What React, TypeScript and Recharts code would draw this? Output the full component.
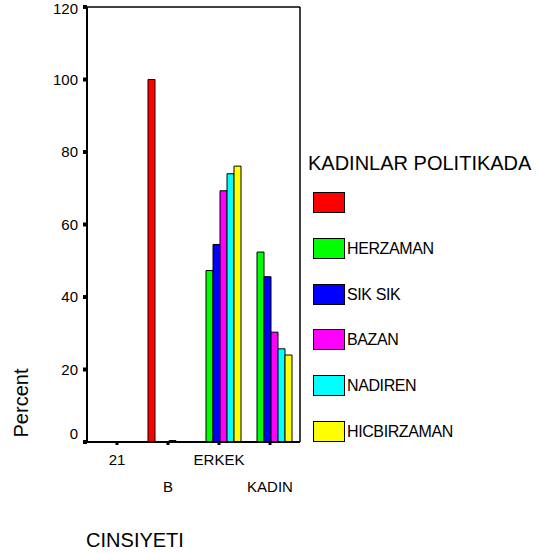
import React from 'react';
import { BarChart, Bar, XAxis, YAxis, Legend } from 'recharts';

const categories = ['21', 'B', 'ERKEK', 'KADIN'];
const seriesNames = ['', 'HERZAMAN', 'SIK SIK', 'BAZAN', 'NADIREN', 'HICBIRZAMAN'];
const seriesKeys = ['blank', 'herzaman', 'siksik', 'bazan', 'nadiren', 'hicbirzaman'];
const seriesColors = ['#FF0000', '#00FF00', '#0000FF', '#FF00FF', '#00FFFF', '#FFFF00'];
const blankValues = [0, 100, 0, 0];
const herzamanValues = [0, 0, 47.3, 52.4];
const siksikValues = [0, 0, 54.5, 45.6];
const bazanValues = [0, 0.4, 69.3, 30.3];
const nadirenValues = [0, 0, 74.0, 25.7];
const hicbirzamanValues = [0, 0, 76.1, 24.0];
const yTicks = [0, 20, 40, 60, 80, 100, 120];
const legendTitle = 'KADINLAR POLITIKADA';
const xTitle = 'CINSIYETI';
const yTitle = 'Percent';

const seriesValues = [blankValues, herzamanValues, siksikValues, bazanValues, nadirenValues, hicbirzamanValues];
const data = categories.map((c, i) => {
  const row: any = { category: c };
  seriesKeys.forEach((k, s) => { row[k] = seriesValues[s][i]; });
  return row;
});

const FONT = '"Liberation Sans", Arial, sans-serif';

const XTick = (props: any) => {
  const { x, y, payload, index } = props;
  const dy = index % 2 === 0 ? 20 : 47;
  return (
    <g>
      <rect x={x - 1.5} y={y - 3} width={3} height={3} fill="#000" />
      <text x={x} y={y} dy={dy} textAnchor="middle" fontFamily={FONT} fontSize={15} fill="#000">
        {payload.value}
      </text>
    </g>
  );
};

const YTick = (props: any) => {
  const { x, y, payload } = props;
  const shift = payload.value === 0 ? -8 : payload.value === 120 ? 2 : 0;
  return (
    <g>
      <rect x={x + 5} y={y - 2} width={4} height={4} fill="#000" />
      <text x={x} y={y + shift} dy={5} textAnchor="end" fontFamily={FONT} fontSize={15} fill="#000">
        {payload.value}
      </text>
    </g>
  );
};

const LegendContent = () => (
  <div style={{ position: 'absolute', left: 0, top: 0, width: 539, height: 553, pointerEvents: 'none' }}>
    <div style={{ position: 'absolute', left: 308, top: 153, fontFamily: FONT, fontSize: 20, lineHeight: '20px', whiteSpace: 'nowrap', color: '#000' }}>
      {legendTitle}
    </div>
    {seriesNames.map((n, i) => {
      const top = 192 + i * 45.8;
      return (
        <div key={i}>
          <div style={{ position: 'absolute', left: 313, top, width: 30, height: 19, background: seriesColors[i], border: '1px solid #000' }} />
          <div style={{ position: 'absolute', left: 347, top: top + 3, fontFamily: FONT, fontSize: 16, lineHeight: '16px', letterSpacing: -0.4, whiteSpace: 'nowrap', color: '#000' }}>
            {n}
          </div>
        </div>
      );
    })}
  </div>
);

export default function App() {
  return (
    <div style={{ position: 'absolute', left: 0, top: 0, width: 539, height: 553, background: '#fff' }}>
      <BarChart
        width={539}
        height={553}
        data={data}
        margin={{ top: 6, right: 238, bottom: 51, left: 27 }}
        barCategoryGap={5.5}
        barGap={0}
      >
        <XAxis
          dataKey="category"
          xAxisId={0}
          height={60}
          padding={{ left: 4.5, right: 4.5 }}
          stroke="#000"
          axisLine={{ stroke: '#000', strokeWidth: 2 }}
          tickLine={false}
          tickSize={3}
          tickMargin={0}
          tick={<XTick />}
          interval={0}
          label={{
            content: () => (
              <text x={135} y={547} textAnchor="middle" fontFamily={FONT} fontSize={20} fill="#000">{xTitle}</text>
            ),
          }}
        />
        <XAxis dataKey="category" xAxisId="top" orientation="top" height={1} tick={false} tickLine={false} stroke="#000" axisLine={{ stroke: '#000', strokeWidth: 1.5 }} />
        <YAxis
          yAxisId={0}
          width={60}
          domain={[0, 120]}
          ticks={yTicks}
          interval={0}
          stroke="#000"
          axisLine={{ stroke: '#000', strokeWidth: 2 }}
          tickLine={false}
          tickSize={4}
          tickMargin={5}
          tick={<YTick />}
          label={{
            content: () => (
              <text x={28} y={403} transform="rotate(-90 28 403)" textAnchor="middle" fontFamily={FONT} fontSize={20} fill="#000">{yTitle}</text>
            ),
          }}
        />
        <YAxis yAxisId="right" orientation="right" width={1} domain={[0, 120]} tick={false} tickLine={false} stroke="#000" axisLine={{ stroke: '#000', strokeWidth: 1.5 }} />
        <Legend content={<LegendContent />} wrapperStyle={{ position: 'absolute', left: 0, top: 0, width: 0, height: 0, overflow: 'visible' }} />
        {seriesKeys.map((k, i) => (
          <Bar
            key={k}
            dataKey={k}
            name={seriesNames[i]}
            xAxisId={0}
            yAxisId={0}
            fill={seriesColors[i]}
            stroke="#000"
            strokeWidth={1}
            isAnimationActive={false}
          />
        ))}
      </BarChart>
    </div>
  );
}
